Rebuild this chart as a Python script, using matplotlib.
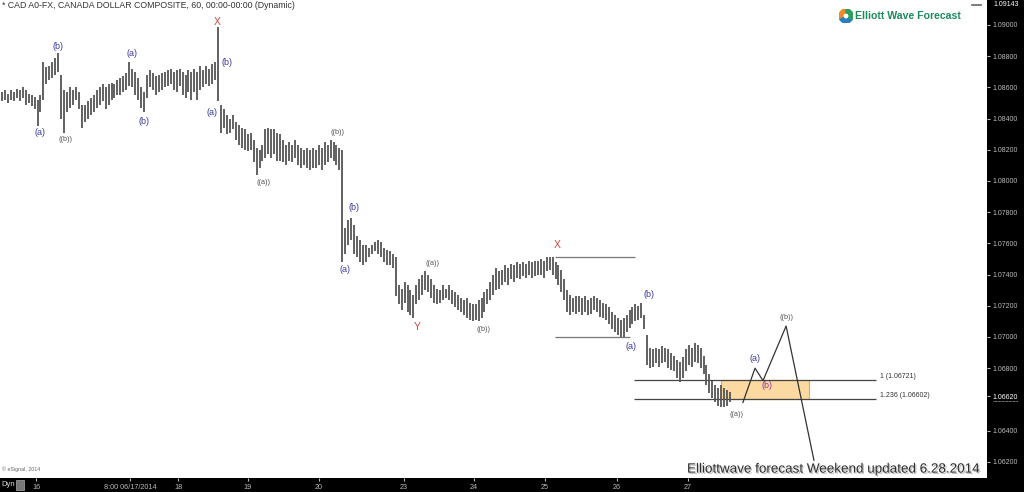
import numpy as np
import matplotlib
matplotlib.use("Agg")
import matplotlib.pyplot as plt
import matplotlib.patheffects as pe
from matplotlib.patches import Rectangle, Wedge

# ---------------- data (hourly bars) ----------------
highs = [
    1.0857,1.0858,1.0856,1.0858,1.0857,1.0859,1.0858,1.0860,1.0858,1.0856,
    1.0855,1.0854,1.0852,1.0855,1.0876,1.0873,1.0874,1.0876,1.0879,1.0882,
    1.0868,1.0858,1.0857,1.0860,1.0858,1.0860,1.0857,1.0849,1.0849,1.0851,
    1.0853,1.0855,1.0858,1.0860,1.0862,1.0860,1.0862,1.0863,1.0862,1.0865,
    1.0866,1.0867,1.0869,1.0876,1.0872,1.0870,1.0866,1.0860,1.0857,1.0868,
    1.0871,1.0869,1.0867,1.0868,1.0869,1.0870,1.0871,1.0872,1.0870,1.0871,
    1.0872,1.0870,1.0868,1.0871,1.0870,1.0872,1.0870,1.0874,1.0871,1.0874,
    1.0872,1.0875,1.0876,1.0899,1.0849,1.0846,1.0842,1.0840,1.0842,1.0838,
    1.0836,1.0834,1.0833,1.0830,1.0831,1.0826,1.0821,1.0820,1.0823,1.0833,
    1.0834,1.0833,1.0833,1.0831,1.0830,1.0826,1.0823,1.0825,1.0823,1.0826,
    1.0823,1.0821,1.0820,1.0821,1.0820,1.0821,1.0820,1.0823,1.0821,1.0825,
    1.0823,1.0826,1.0825,1.0823,1.0821,1.0820,1.0770,1.0775,1.0776,1.0772,
    1.0765,1.0762,1.0759,1.0759,1.0757,1.0759,1.0761,1.0762,1.0761,1.0757,
    1.0756,1.0755,1.0753,1.0751,1.0733,1.0731,1.0735,1.0733,1.0730,1.0727,
    1.0733,1.0737,1.0740,1.0742,1.0740,1.0737,1.0733,1.0731,1.0730,1.0733,
    1.0731,1.0733,1.0730,1.0729,1.0727,1.0725,1.0724,1.0725,1.0722,1.0721,
    1.0721,1.0724,1.0725,1.0729,1.0731,1.0735,1.0740,1.0744,1.0742,1.0743,
    1.0746,1.0744,1.0747,1.0746,1.0748,1.0747,1.0748,1.0747,1.0749,1.0748,
    1.0749,1.0749,1.0750,1.0749,1.0751,1.0751,1.0751,1.0748,1.0746,1.0743,
    1.0737,1.0730,1.0727,1.0725,1.0726,1.0726,1.0725,1.0726,1.0724,1.0725,
    1.0726,1.0725,1.0724,1.0722,1.0721,1.0719,1.0716,1.0714,1.0712,1.0711,
    1.0712,1.0714,1.0717,1.0719,1.0721,1.0720,1.0722,1.0714,1.0701,1.0693,
    1.0692,1.0693,1.0692,1.0694,1.0693,1.0692,1.0690,1.0688,1.0685,1.0684,
    1.0687,1.0692,1.0695,1.0693,1.0696,1.0695,1.0693,1.0688,1.0682,1.0676,
    1.0672,1.0669,1.0667,1.0669,1.0667,1.0666,1.0665,
]
lows = [
    1.0851,1.0852,1.0850,1.0852,1.0851,1.0853,1.0851,1.0853,1.0849,1.0850,
    1.0848,1.0846,1.0835,1.0844,1.0852,1.0862,1.0865,1.0866,1.0868,1.0870,
    1.0840,1.0831,1.0844,1.0847,1.0849,1.0852,1.0846,1.0834,1.0838,1.0840,
    1.0842,1.0844,1.0847,1.0849,1.0851,1.0846,1.0849,1.0852,1.0853,1.0855,
    1.0855,1.0857,1.0858,1.0861,1.0860,1.0855,1.0852,1.0847,1.0844,1.0853,
    1.0860,1.0858,1.0855,1.0857,1.0858,1.0860,1.0861,1.0862,1.0858,1.0857,
    1.0861,1.0855,1.0853,1.0857,1.0852,1.0857,1.0852,1.0858,1.0860,1.0862,
    1.0861,1.0862,1.0865,1.0851,1.0831,1.0834,1.0830,1.0831,1.0833,1.0826,
    1.0823,1.0821,1.0820,1.0819,1.0820,1.0812,1.0804,1.0808,1.0813,1.0815,
    1.0817,1.0815,1.0817,1.0813,1.0813,1.0812,1.0810,1.0813,1.0812,1.0815,
    1.0810,1.0808,1.0810,1.0808,1.0807,1.0808,1.0808,1.0810,1.0807,1.0810,
    1.0812,1.0815,1.0813,1.0810,1.0807,1.0748,1.0753,1.0759,1.0762,1.0753,
    1.0751,1.0748,1.0746,1.0748,1.0751,1.0753,1.0755,1.0753,1.0751,1.0748,
    1.0746,1.0746,1.0744,1.0726,1.0721,1.0717,1.0722,1.0716,1.0714,1.0712,
    1.0721,1.0724,1.0727,1.0730,1.0729,1.0725,1.0722,1.0721,1.0722,1.0724,
    1.0725,1.0724,1.0721,1.0719,1.0717,1.0716,1.0714,1.0712,1.0711,1.0710,
    1.0711,1.0710,1.0712,1.0716,1.0721,1.0724,1.0727,1.0730,1.0731,1.0733,
    1.0735,1.0733,1.0737,1.0735,1.0738,1.0737,1.0739,1.0738,1.0740,1.0738,
    1.0739,1.0740,1.0740,1.0738,1.0742,1.0743,1.0740,1.0737,1.0733,1.0729,
    1.0724,1.0716,1.0714,1.0716,1.0715,1.0716,1.0714,1.0716,1.0714,1.0715,
    1.0717,1.0716,1.0713,1.0712,1.0711,1.0708,1.0705,1.0703,1.0701,1.0700,
    1.0700,1.0703,1.0706,1.0708,1.0710,1.0711,1.0712,1.0705,1.0682,1.0680,
    1.0681,1.0683,1.0681,1.0683,1.0684,1.0680,1.0679,1.0678,1.0674,1.0671,
    1.0674,1.0678,1.0682,1.0681,1.0684,1.0683,1.0680,1.0676,1.0669,1.0664,
    1.0661,1.0658,1.0656,1.0655,1.0655,1.0656,1.0658,
]

# x-axis (bar index) day labels
day_labels = ["16", "8:00 06/17/2014", "18", "19", "20", "23", "24", "25", "26", "27"]
day_pos = [11.5, 43.2, 59.5, 83.1, 107.1, 135.8, 159.5, 183.4, 207.8, 231.8]

# right price scale
price_ticks = [1.090, 1.088, 1.086, 1.084, 1.082, 1.080, 1.078, 1.076, 1.074,
               1.072, 1.070, 1.068, 1.0662, 1.064, 1.062]
last_price = 1.0662
top_price = 1.09143

# Elliott wave labels: (text, bar index, price, kind)
wave_labels = [
    ("(a)", 12.8, 1.0831, "blue"), ("(b)", 18.9, 1.08865, "blue"),
    ("((b))", 21.6, 1.08269, "dark"), ("(a)", 43.9, 1.08814, "blue"),
    ("(b)", 48.0, 1.0838, "blue"), ("X", 72.6, 1.09020, "red"),
    ("(b)", 76.0, 1.0876, "blue"), ("(a)", 70.9, 1.08436, "blue"),
    ("((a))", 88.5, 1.0799, "dark"), ("((b))", 113.2, 1.0831, "dark"),
    ("(b)", 118.9, 1.07827, "blue"), ("(a)", 115.9, 1.0743, "blue"),
    ("((a))", 145.6, 1.0747, "dark"), ("Y", 140.2, 1.07064, "red"),
    ("((b))", 162.8, 1.07045, "dark"), ("X", 187.5, 1.0759, "red"),
    ("(a)", 212.5, 1.06942, "blue"), ("(b)", 218.6, 1.07275, "blue"),
    ("((a))", 248.0, 1.0650, "dark"), ("(a)", 254.4, 1.06865, "blue"),
    ("(b)", 258.4, 1.06686, "purple"), ("((b))", 265.2, 1.07122, "dark"),
]

# projected path
proj_x = [250.3, 254.4, 257.1, 264.9, 274.3]
proj_y = [1.0658, 1.0680, 1.0672, 1.0707, 1.0621]

# swing reference lines
x_line = (186.8, 213.9, 1.0751)
a_line = (186.8, 212.0, 1.0700)
fib_levels = [1.06721, 1.06602]
fib_text = ["1 (1.06721)", "1.236 (1.06602)"]
fib_span = (213.5, 295.3)
box_span = (242.9, 272.6)

# ---------------- figure ----------------
W, H = 1024, 492
fig = plt.figure(figsize=(W / 100, H / 100), dpi=100, facecolor="black")
ax = fig.add_axes([0, 14 / H, 987 / W, 478 / H])
ax.set_facecolor("white")
ax.set_xlim(-0.676, 332.77)
ax.set_ylim(1.06096, 1.09160)

idx = np.arange(len(highs))
ax.vlines(idx, lows, highs, color="#555555", lw=1.3, zorder=3)

# reference lines
ax.hlines(x_line[2], x_line[0], x_line[1], color="#777777", lw=0.9)
ax.hlines(a_line[2], a_line[0], a_line[1], color="#777777", lw=0.9)
ax.add_patch(Rectangle((box_span[0], fib_levels[1]), box_span[1] - box_span[0],
                       fib_levels[0] - fib_levels[1], facecolor="#fcd9a0",
                       edgecolor="#f0a848", lw=0.8, zorder=2))
for lvl, txt in zip(fib_levels, fib_text):
    ax.hlines(lvl, fib_span[0], fib_span[1], color="#444444", lw=0.9, zorder=2.5)
    ax.text(fib_span[1] + 1.4, lvl, txt, fontsize=5, color="#333333",
            va="bottom", ha="left", family="Liberation Sans")

ax.plot(proj_x, proj_y, color="#333333", lw=0.9, zorder=4)

colors = {"blue": "#3b3b9c", "dark": "#555555", "red": "#c94a3e", "purple": "#8e3b9a"}
sizes = {"blue": 6.5, "dark": 5.2, "red": 7.5, "purple": 6.5}
for txt, xi, yv, kind in wave_labels:
    ax.text(xi, yv, txt, color=colors[kind], fontsize=sizes[kind], ha="center",
            va="center", family="Liberation Sans", zorder=5)

# axis styling
for s in ax.spines.values():
    s.set_visible(False)
ax.yaxis.tick_right()
ax.set_yticks(price_ticks)
ax.set_yticklabels([f"{p:.5f}" for p in price_ticks])
ax.tick_params(axis="y", colors="#bbbbbb", labelsize=5, length=2, pad=2, direction="out")
for lab, p in zip(ax.get_yticklabels(), price_ticks):
    lab.set_family("Liberation Sans")
    if abs(p - last_price) < 1e-9:
        lab.set_color("white")
ax.set_xticks(day_pos)
ax.set_xticklabels(day_labels)
ax.tick_params(axis="x", colors="#bbbbbb", labelsize=5.2, length=2, pad=2, direction="out")
for lab in ax.get_xticklabels():
    lab.set_family("Liberation Sans")

# top price marker
fig.text(993 / W, 1 - 4 / H, f"{top_price:.5f}", color="white", fontsize=5,
         va="center", ha="left", family="Liberation Sans")
# underline of last price
yl = 14 / H + 478 / H * (last_price - 1.06096) / (1.09160 - 1.06096)
fig.add_artist(plt.Line2D([993 / W, 1018 / W], [yl - 5 / H, yl - 5 / H],
                          color="white", lw=0.5, ls=(0, (1, 1))))

# header and notes
ax.text(0.002, 0.998, "* CAD A0-FX, CANADA DOLLAR COMPOSITE, 60, 00:00-00:00 (Dynamic)",
        transform=ax.transAxes, fontsize=6.3, color="#333333", va="top", ha="left",
        family="Liberation Sans")
ax.text(0.002, 0.012, "\u00a9 eSignal, 2014", transform=ax.transAxes, fontsize=3.8,
        color="#666666", va="bottom", ha="left", family="Liberation Sans")
ax.text(687 / 987, 0.005, "Elliottwave forecast Weekend updated 6.28.2014",
        transform=ax.transAxes, fontsize=9.7, color="#2e2e2e", va="bottom", ha="left",
        family="Liberation Sans",
        path_effects=[pe.withSimplePatchShadow(offset=(1, -1), shadow_rgbFace="#999999", alpha=0.6)])

# logo
ax.text(855 / 987, 1 - 16 / 478, "Elliott Wave Forecast", transform=ax.transAxes,
        fontsize=7.6, color="#1e8a5a", fontweight="bold", va="center", ha="left",
        family="Liberation Sans")
iax = fig.add_axes([839 / W, 1 - 23 / H, 14 / W, 14 / H])
iax.set_xlim(-1, 1)
iax.set_ylim(-1, 1)
iax.axis("off")
iax.add_patch(Wedge((0, 0), 1, 90, 210, width=0.55, color="#f08a24"))
iax.add_patch(Wedge((0, 0), 1, 210, 330, width=0.55, color="#2a7fc0"))
iax.add_patch(Wedge((0, 0), 1, 330, 450, width=0.55, color="#2aa05a"))
fig.add_artist(plt.Line2D([972 / W, 981 / W], [1 - 5 / H, 1 - 5 / H], color="#666666", lw=1.2))

# bottom-left "Dyn" box
fig.text(1 / W, 7 / H, "Dyn", color="#dddddd", fontsize=5.5, va="center", ha="left",
         family="Liberation Sans")
fig.add_artist(Rectangle((16 / W, 2 / H), 8 / W, 10 / H, transform=fig.transFigure,
                         facecolor="#777777", edgecolor="#aaaaaa", lw=0.5))

fig.savefig("out.png", dpi=100, facecolor="black")
